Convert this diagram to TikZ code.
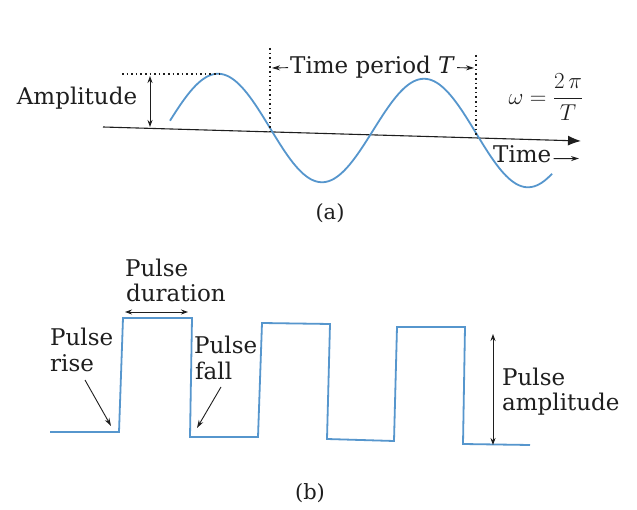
\RequirePackage{fix-cm}
\documentclass[tikz,border=0pt]{standalone}
\usepackage{fontspec}
\setmainfont{DejaVu Serif}
\usetikzlibrary{arrows.meta}
\definecolor{wave}{RGB}{86,150,205}
\definecolor{ink}{RGB}{30,30,30}
\tikzset{
  lbl/.style={font=\fontsize{23}{26}\selectfont, text=ink, inner sep=0pt},
  subcap/.style={font=\fontsize{21}{24}\selectfont, text=ink, inner sep=0pt},
  wavy/.style={draw=wave, line width=1.8pt, line join=round},
  dbl/.style={draw=ink, line width=0.9pt, {Stealth[length=7pt,width=5pt]}-{Stealth[length=7pt,width=5pt]}},
  ptr/.style={draw=ink, line width=0.9pt, -{Stealth[length=8pt,width=5pt]}},
  guide/.style={draw=ink, line width=1.5pt, dash pattern=on 1.6pt off 3pt},
  axisline/.style={draw=ink, line width=1.1pt, -{Latex[length=13pt,width=10pt]}}
}
\begin{document}
\begin{tikzpicture}[x=1pt,y=-1pt]
\useasboundingbox (0,0) rectangle (637,510);
\fill[white] (0,0) rectangle (637,510);

% ---------- (a) sinusoid ----------
\coordinate (axL) at (103,127);
\coordinate (axR) at (581,141);
\draw[axisline] (axL) -- (axR);
\draw[wavy] plot[domain=170:552, samples=150, smooth] (\x, {128+(\x-270)*0.0244-53*sin(1.74757*(\x-167))});

% guides
\coordinate (pkL) at (122,74);
\coordinate (pkR) at (222,74);
\draw[guide] (pkL) -- (pkR);
\coordinate (v1T) at (270,48);
\coordinate (v1B) at (270,131);
\draw[guide] (v1T) -- (v1B);
\coordinate (v2T) at (476,55);
\coordinate (v2B) at (476,137);
\draw[guide] (v2T) -- (v2B);

% amplitude
\coordinate (ampT) at (150,76);
\coordinate (ampB) at (150,127);
\draw[dbl] (ampT) -- (ampB);
\node[lbl, anchor=base] (amp) at (77,105) {Amplitude};

% time period
\node[lbl, anchor=base west] (tp) at (290,74) {Time period \textit{T}};
\coordinate (tpL) at (272,68);
\coordinate (tpR) at (474,68);
\draw[ptr] ([xshift=-2pt]tp.west) -- (tpL);
\draw[ptr] ([xshift=2pt]tp.east) -- (tpR);

% omega
\node[lbl] (om) at (546,97) {$\omega=\displaystyle\frac{2\,\pi}{T}$};

% time axis label
\node[lbl, anchor=base west] (tm) at (493,163) {Time};
\coordinate (tmE) at (579,158.5);
\draw[ptr] ([xshift=2pt,yshift=-4pt]tm.east) -- (tmE);

\node[subcap] (capa) at (330,213) {(a)};

% ---------- (b) pulses ----------
\draw[wavy, line join=miter]
  (50,432) -- (119,432) -- (123,318) -- (192,318) -- (190,437) -- (258,437)
  -- (262,323) -- (330,324) -- (327,439) -- (394,441) -- (397,327)
  -- (465,327) -- (463,444) -- (530,445);

% pulse duration
\node[lbl, anchor=base west] (durA) at (125,277) {Pulse};
\node[lbl, anchor=base west] (durB) at (126,302) {duration};
\coordinate (duL) at (125,312);
\coordinate (duR) at (188,312);
\draw[dbl] (duL) -- (duR);

% pulse rise
\node[lbl, anchor=base west] (riA) at (50,346) {Pulse};
\node[lbl, anchor=base west] (riB) at (50,371) {rise};
\coordinate (riS) at (85,380);
\coordinate (riE) at (111,426);
\draw[ptr] (riS) -- (riE);

% pulse fall
\node[lbl, anchor=base west] (faA) at (194,354) {Pulse};
\node[lbl, anchor=base west] (faB) at (195,379) {fall};
\coordinate (faS) at (221,387);
\coordinate (faE) at (197,428);
\draw[ptr] (faS) -- (faE);

% pulse amplitude
\coordinate (paT) at (493,334);
\coordinate (paB) at (493,445);
\draw[dbl] (paT) -- (paB);
\node[lbl, anchor=base west] (paA) at (502,385) {Pulse};
\node[lbl, anchor=base west] (paB2) at (502,410) {amplitude};

\node[subcap] (capb) at (310,493) {(b)};
\end{tikzpicture}
\end{document}
